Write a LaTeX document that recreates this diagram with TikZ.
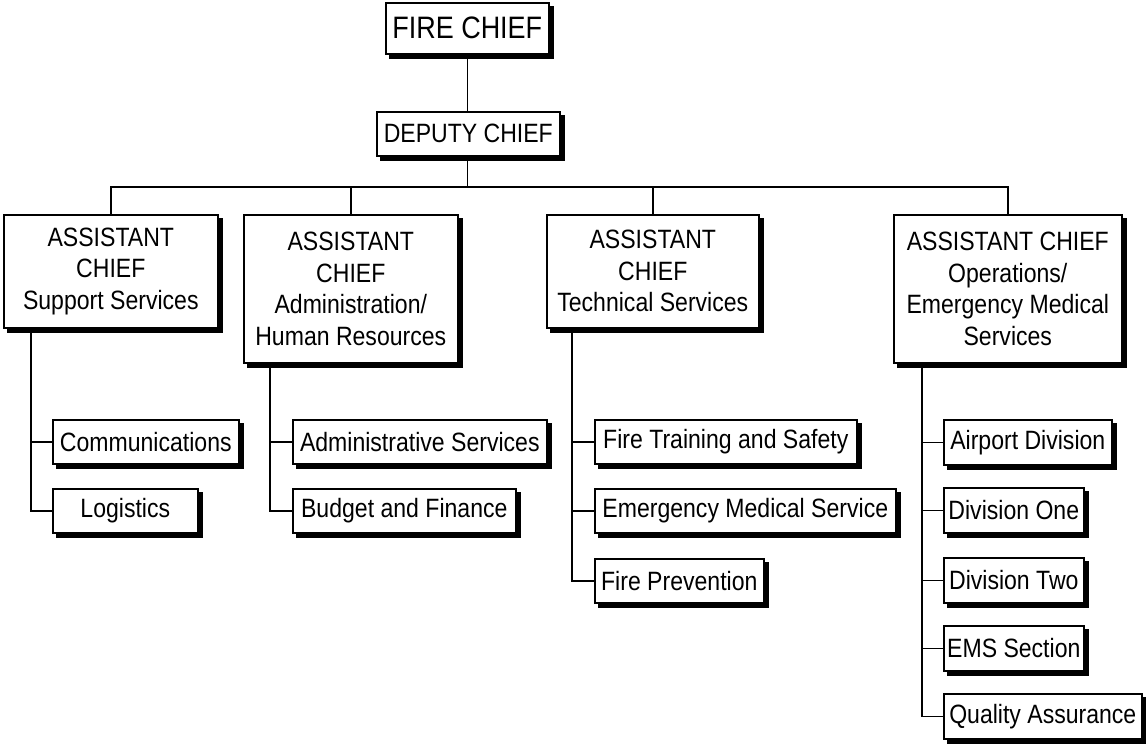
\documentclass[tikz,border=0pt]{standalone}
\usepackage{fontspec}
\setmainfont[FakeStretch=0.87]{Liberation Sans}
\begin{document}
\begin{tikzpicture}[x=1pt,y=-1pt,
  line width=1.6pt,
  box/.style={draw=black, fill=white, anchor=north west, inner sep=0pt,
    align=center, font=\fontsize{26.5}{31.5}\selectfont,
    preaction={fill=black, draw=black, transform canvas={xshift=4pt,yshift=-4pt}}},
  link/.style={draw=black, line width=1.6pt}]
\useasboundingbox (0,0) rectangle (1146,744);

% top of the chain
\node[box, minimum width=163pt, minimum height=51pt, font=\fontsize{31}{33}\selectfont] (fc) at (385,2) {FIRE CHIEF};
\node[box, minimum width=183pt, minimum height=44pt] (dc) at (376,111) {DEPUTY CHIEF};

% assistant chiefs
\node[box, minimum width=214pt, minimum height=113pt] (ac1) at (3,214) {ASSISTANT\\CHIEF\\Support Services};
\node[box, minimum width=214pt, minimum height=148pt] (ac2) at (243,214) {ASSISTANT\\CHIEF\\Administration/\\Human Resources};
\node[box, minimum width=212pt, minimum height=113pt] (ac3) at (546,214) {ASSISTANT\\CHIEF\\Technical Services};
\node[box, minimum width=228pt, minimum height=148pt] (ac4) at (893,214) {ASSISTANT CHIEF\\Operations/\\Emergency Medical\\Services};

% support services units
\node[box, minimum width=186pt, minimum height=44pt] (com) at (52,419) {Communications};
\node[box, minimum width=145pt, minimum height=44pt] (log) at (52,488) {Logistics};

% administration units
\node[box, minimum width=254pt, minimum height=44pt] (adm) at (292,419) {Administrative Services};
\node[box, minimum width=223pt, minimum height=44pt] (bud) at (292,488) {Budget and Finance};

% technical services units
\node[box, minimum width=262pt, minimum height=44pt] (fts) at (594,419) {Fire Training and Safety};
\node[box, minimum width=301pt, minimum height=44pt] (ems) at (594,488) {Emergency Medical Service};
\node[box, minimum width=169pt, minimum height=44pt] (fp) at (594,558) {Fire Prevention};

% operations units
\node[box, minimum width=168pt, minimum height=45pt] (apd) at (943,419) {Airport Division};
\node[box, minimum width=140pt, minimum height=45pt] (d1) at (943,487) {Division One};
\node[box, minimum width=140pt, minimum height=45pt] (d2) at (943,557) {Division Two};
\node[box, minimum width=140pt, minimum height=45pt] (emss) at (943,625) {EMS Section};
\node[box, minimum width=198pt, minimum height=45pt] (qa) at (943,693) {Quality Assurance};

% bus level and branch spines
\coordinate (bus) at (0,187);
\coordinate (sp1) at (31,0);
\coordinate (sp2) at (270,0);
\coordinate (sp3) at (572,0);
\coordinate (sp4) at (922,0);

% chief to deputy to bus
\draw[link] (fc.south) -- (fc.south |- dc.north);
\draw[link] (dc.south -| fc.south) -- (fc.south |- bus);
\draw[link] (ac1.north) -- (ac1.north |- bus) -- (ac4.north |- bus) -- (ac4.north);
\draw[link] (ac2.north) -- (ac2.north |- bus);
\draw[link] (ac3.north) -- (ac3.north |- bus);

% branches to units
\draw[link] (ac1.south -| sp1) |- (log.west);
\draw[link] (com.west) -- (com.west -| sp1);
\draw[link] (ac2.south -| sp2) |- (bud.west);
\draw[link] (adm.west) -- (adm.west -| sp2);
\draw[link] (ac3.south -| sp3) |- (fp.west);
\draw[link] (fts.west) -- (fts.west -| sp3);
\draw[link] (ems.west) -- (ems.west -| sp3);
\draw[link] (ac4.south -| sp4) |- (qa.west);
\draw[link] (apd.west) -- (apd.west -| sp4);
\draw[link] (d1.west) -- (d1.west -| sp4);
\draw[link] (d2.west) -- (d2.west -| sp4);
\draw[link] (emss.west) -- (emss.west -| sp4);
\end{tikzpicture}
\end{document}
